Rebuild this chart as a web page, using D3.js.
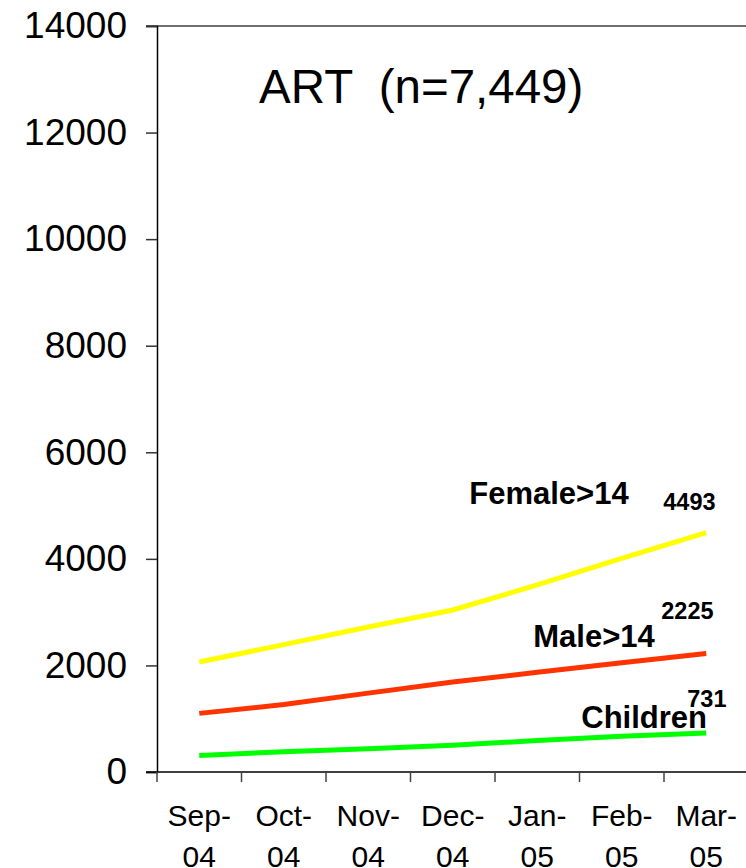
<!DOCTYPE html>
<html>
<head>
<meta charset="utf-8">
<script src="https://cdn.jsdelivr.net/npm/d3@7"></script>
<style>
  body { margin: 0; background: #fff; }
  text { font-family: "Liberation Sans", Arial, sans-serif; }
</style>
</head>
<body>
<div id="chart"></div>
<script>
// data
var months = ["Sep-04", "Oct-04", "Nov-04", "Dec-04", "Jan-05", "Feb-05", "Mar-05"];
var female = [2065, 2390, 2720, 3040, 3510, 4010, 4493];
var male = [1100, 1265, 1480, 1690, 1870, 2050, 2225];
var children = [310, 380, 435, 500, 590, 670, 731];
var yTicks = [0, 2000, 4000, 6000, 8000, 10000, 12000, 14000];
var title = "ART  (n=7,449)";

var svgWidth = 746;
var svgHeight = 868;
var margin = { top: 26, left: 157, bottom: 96 };
var plotBottom = svgHeight - margin.bottom;

var svg = d3.select("#chart")
  .append("svg")
  .attr("width", svgWidth)
  .attr("height", svgHeight);

// band scale, last band runs a little past the right edge like the original
var x = d3.scaleBand().domain(months).range([margin.left, margin.left + 7 * 84.5]);
var y = d3.scaleLinear().domain([0, 14000]).range([plotBottom, margin.top]);
var xc = function(i) { return x(months[i]) + x.bandwidth() / 2; };

// gray line at the top of the plot
svg.append("line")
  .attr("x1", margin.left - 11).attr("x2", svgWidth)
  .attr("y1", y(14000)).attr("y2", y(14000))
  .attr("stroke", "#707070").attr("stroke-width", 2);

// y axis
var yAxis = svg.append("g")
  .attr("transform", "translate(" + margin.left + ",0)")
  .call(d3.axisLeft(y).tickValues(yTicks).tickSize(11).tickPadding(19).tickFormat(d3.format("d")));
yAxis.select(".domain").attr("stroke", "#000").attr("stroke-width", 1.5);
yAxis.selectAll(".tick line").attr("stroke", "#333").attr("stroke-width", 1.5);
yAxis.selectAll(".tick text")
  .attr("font-size", "37px")
  .attr("fill", "#000")
  .style("font-family", "'Liberation Sans', Arial, sans-serif");

// x axis line
svg.append("line")
  .attr("x1", margin.left - 11).attr("x2", svgWidth)
  .attr("y1", plotBottom).attr("y2", plotBottom)
  .attr("stroke", "#000").attr("stroke-width", 1.5);

// ticks between categories
svg.selectAll(".xtick")
  .data(months)
  .enter().append("line")
  .attr("class", "xtick")
  .attr("x1", function(d) { return x(d); })
  .attr("x2", function(d) { return x(d); })
  .attr("y1", plotBottom)
  .attr("y2", plotBottom + 10)
  .attr("stroke", "#444").attr("stroke-width", 1.5);

// two line month labels
var xl = svg.selectAll(".xlab")
  .data(months)
  .enter().append("text")
  .attr("class", "xlab")
  .attr("text-anchor", "middle")
  .attr("font-size", "30px")
  .attr("fill", "#000");
xl.append("tspan")
  .attr("x", function(d) { return x(d) + x.bandwidth() / 2; })
  .attr("y", plotBottom + 54)
  .text(function(d) { return d.split("-")[0] + "-"; });
xl.append("tspan")
  .attr("x", function(d) { return x(d) + x.bandwidth() / 2; })
  .attr("y", plotBottom + 95)
  .text(function(d) { return d.split("-")[1]; });

// lines
var line = d3.line()
  .x(function(d, i) { return xc(i); })
  .y(function(d) { return y(d); });

var series = [
  { name: "Female>14", values: female, color: "#ffff00" },
  { name: "Male>14", values: male, color: "#ff3300" },
  { name: "Children", values: children, color: "#00ff00" }
];

svg.selectAll(".series")
  .data(series)
  .enter().append("path")
  .attr("class", "series")
  .attr("d", function(d) { return line(d.values); })
  .attr("fill", "none")
  .attr("stroke", function(d) { return d.color; })
  .attr("stroke-width", 5);

// labels next to the last point
var last = months.length - 1;
var lab = [
  { nx: -237, ny: -29, vx: -43, vy: -23 },
  { nx: -173, ny: -6, vx: -45, vy: -34 },
  { nx: -125, ny: -5, vx: -19, vy: -26 }
];

series.forEach(function(s, k) {
  var px = xc(last), py = y(s.values[last]);
  svg.append("text")
    .attr("x", px + lab[k].nx).attr("y", py + lab[k].ny)
    .attr("font-size", "31px").attr("font-weight", "bold")
    .text(s.name);
  svg.append("text")
    .attr("x", px + lab[k].vx).attr("y", py + lab[k].vy)
    .attr("font-size", "23.5px").attr("font-weight", "bold")
    .text(s.values[last]);
});

// title
svg.append("text")
  .attr("x", 259).attr("y", 103)
  .attr("font-size", "47.5px")
  .style("white-space", "pre")
  .text(title);
</script>
</body>
</html>
